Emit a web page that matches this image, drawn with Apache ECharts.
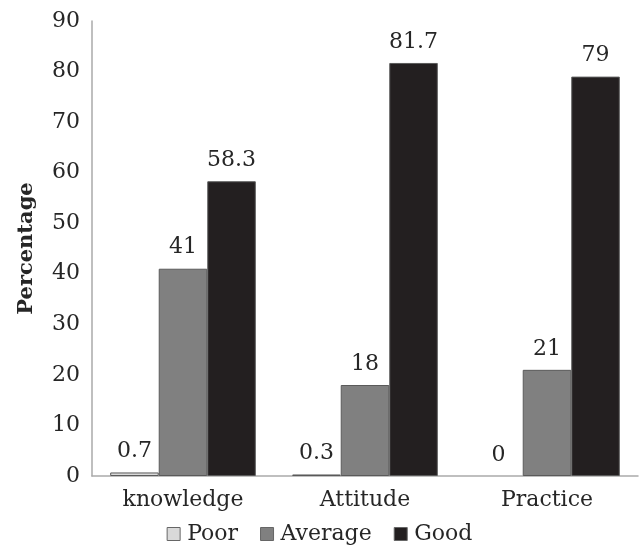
<!DOCTYPE html>
<html><head><meta charset="utf-8">
<script src="https://cdn.jsdelivr.net/npm/echarts@6/dist/echarts.min.js"></script>
<style>html,body{margin:0;padding:0;background:#fff}#c{width:639px;height:546px}</style>
</head><body><div id="c"></div>
<script>
var categories = ['knowledge', 'Attitude', 'Practice'];
var poor = [0.7, 0.3, 0];
var average = [41, 18, 21];
var good = [58.3, 81.7, 79];
var seriesNames = ['Poor', 'Average', 'Good'];

var FONT = 'DejaVu Serif';
var TXT = '#262626';
var chart = echarts.init(document.getElementById('c'), null, {renderer: 'canvas'});
function mk(name, data, color) {
  return {
    name: name, type: 'bar',
    data: data.map(function (v) {
      return v === 0 ? {value: v, itemStyle: {borderWidth: 0}} : v;
    }),
    barGap: '0%', barCategoryGap: '20%',
    itemStyle: {color: color, borderColor: '#5a5a5a', borderWidth: 1},
    label: {show: true, position: 'top', distance: 10, fontFamily: FONT, fontSize: 22, color: TXT},
    emphasis: {disabled: true}
  };
}
chart.setOption({
  animation: false,
  backgroundColor: '#fff',
  grid: {left: 92, right: 1, top: 21, bottom: 70, containLabel: false},
  legend: {
    bottom: -4, left: 'center', itemWidth: 13, itemHeight: 13, itemGap: 22,
    icon: 'rect',
    textStyle: {fontFamily: FONT, fontSize: 22, color: TXT, padding: [0, 0, 0, 2]},
    data: seriesNames.map(function (n) { return {name: n, itemStyle: {borderColor: '#666', borderWidth: 1}}; })
  },
  xAxis: {
    type: 'category', data: categories,
    axisLine: {lineStyle: {color: '#aaa', width: 1.5}},
    axisTick: {show: false},
    axisLabel: {fontFamily: FONT, fontSize: 22, color: TXT, margin: 13}
  },
  yAxis: {
    type: 'value', min: 0, max: 90, interval: 10,
    name: 'Percentage', nameLocation: 'middle', nameGap: 55,
    nameTextStyle: {fontFamily: FONT, fontSize: 21, fontWeight: 'bold', color: TXT},
    axisLine: {show: true, lineStyle: {color: '#aaa', width: 1.5}},
    axisTick: {show: false},
    splitLine: {show: false},
    axisLabel: {fontFamily: FONT, fontSize: 22, color: TXT, margin: 12}
  },
  series: [
    mk(seriesNames[0], poor, '#d9d9d9'),
    mk(seriesNames[1], average, '#808080'),
    mk(seriesNames[2], good, '#231f20')
  ]
});
</script></body></html>
